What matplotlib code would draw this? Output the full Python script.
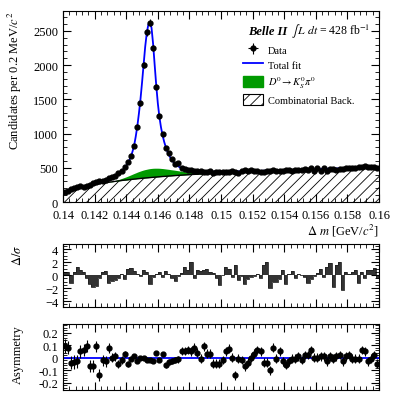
import numpy as np
import matplotlib
matplotlib.use("Agg")
import matplotlib.pyplot as plt
from matplotlib.ticker import MultipleLocator, FuncFormatter
from matplotlib.lines import Line2D
from matplotlib.patches import Patch

plt.rcParams['font.family'] = ['Liberation Serif', 'DejaVu Serif']
plt.rcParams['mathtext.fontset'] = 'stix'
plt.rcParams['hatch.linewidth'] = 0.6

# binning: 100 bins of 0.2 MeV
dm_lo, dm_hi, n_bins = 0.140, 0.160, 100

# candidates per bin
counts = [
    142, 165, 190, 211, 219, 234, 219, 234, 248, 277,
    292, 307, 302, 321, 346, 360, 375, 424, 449, 516,
    580, 672, 823, 1101, 1443, 2007, 2481, 2617, 2247, 1686,
    1253, 994, 785, 712, 624, 555, 566, 497, 487, 470,
    475, 460, 455, 450, 445, 438, 446, 430, 441, 436,
    432, 444, 438, 447, 442, 429, 452, 470, 446, 463,
    448, 455, 441, 432, 455, 449, 462, 458, 446, 453,
    468, 462, 455, 470, 466, 472, 480, 470, 493, 448,
    500, 458, 495, 448, 482, 478, 470, 485, 479, 498,
    493, 503, 500, 508, 510, 520, 506, 512, 505, 495,
]

# fit model curves
model_x = [0.1400, 0.1403, 0.1406, 0.1410, 0.1415, 0.1420, 0.1425, 0.1428, 0.1430, 0.1433,
           0.1436, 0.1438, 0.1440, 0.1442, 0.1443, 0.1444, 0.1445, 0.1446, 0.1447, 0.1448,
           0.1449, 0.1450, 0.1451, 0.1452, 0.1453, 0.1454, 0.1455, 0.1456, 0.1457, 0.1458,
           0.1459, 0.1460, 0.1461, 0.1462, 0.1463, 0.1464, 0.1465, 0.1466, 0.1467, 0.1468,
           0.1469, 0.1470, 0.1472, 0.1474, 0.1476, 0.1478, 0.1480, 0.1484, 0.1488, 0.1492,
           0.1496, 0.1500, 0.1510, 0.1520, 0.1530, 0.1540, 0.1550, 0.1560, 0.1570, 0.1580,
           0.1590, 0.1600]
bkg_y = [122, 155, 180, 205, 230, 253, 274, 285, 292, 302,
         311, 317, 322, 327, 330, 332, 335, 337, 340, 342,
         344, 347, 349, 351, 353, 355, 357, 359, 361, 363,
         365, 367, 369, 371, 373, 374, 376, 378, 380, 381,
         383, 385, 388, 391, 394, 397, 400, 405, 410, 414,
         418, 422, 431, 440, 448, 456, 464, 472, 479, 486,
         492, 498]
peaking_y = [0, 0, 0, 0, 0, 0, 0, 2, 5, 12,
             24, 34, 46, 60, 67, 75, 82, 89, 96, 103,
             109, 114, 119, 123, 126, 129, 131, 132, 132, 131,
             129, 127, 124, 120, 116, 112, 107, 102, 97, 92,
             87, 82, 72, 62, 52, 43, 36, 26, 15, 6,
             1, 0, 0, 0, 0, 0, 0, 0, 0, 0,
             0, 0]
total_y = [126, 160, 186, 212, 239, 265, 295, 318, 333, 370,
           422, 468, 532, 612, 668, 740, 828, 955, 1105, 1290,
           1500, 1745, 2010, 2270, 2470, 2595, 2625, 2545, 2310, 2000,
           1700, 1440, 1240, 1090, 975, 880, 805, 740, 690, 645,
           610, 580, 535, 505, 485, 472, 463, 452, 446, 443,
           442, 442, 446, 452, 458, 465, 472, 480, 488, 495,
           502, 508]

# pulls per bin
pulls = [
    0.4, 0.4, -1.2, 0.5, 1.2, 0.7, 0.5, -0.4, -1.4, -1.8,
    -1.7, -0.4, 0.4, 0.6, -1.2, -0.9, -0.7, -0.4, 0.1, -0.6,
    0.9, 1.1, 0.6, 0.2, -0.2, 0.8, 0.5, -1.4, -0.3, 0.1,
    0.4, -0.3, 0.6, 0.2, -0.5, -0.9, -0.2, 0.3, 1.3, 0.8,
    2.0, -0.5, 0.8, 0.6, 0.8, 0.9, 0.5, 0.3, -0.4, -1.6,
    0.0, 1.3, 1.0, -0.3, 1.6, -0.7, -0.1, -1.3, -0.6, -0.3,
    -0.1, 0.1, -0.5, 1.6, 2.0, -2.0, -1.1, -1.0, -0.6, 0.7,
    -1.3, 0.2, 0.6, -0.5, 0.1, 0.0, -0.3, -1.2, -0.6, -0.2,
    0.3, 0.9, -0.3, 1.3, 1.8, -1.8, 1.6, 2.0, -2.3, 0.5,
    0.2, 0.5, 0.8, -1.2, 0.4, -0.4, 0.8, 0.7, 1.1, -0.5,
]

# asymmetry per bin and its uncertainty
asym = [
    0.09, 0.08, -0.04, -0.035, -0.03, 0.05, 0.06, 0.09, -0.07, -0.07,
    0.09, -0.14, -0.02, -0.03, 0.08, 0.0, 0.01, -0.05, -0.02, 0.03,
    -0.05, -0.01, 0.01, -0.03, 0.0, -0.005, -0.02, -0.02, -0.025, 0.035,
    -0.02, 0.03, -0.06, -0.035, -0.03, -0.02, -0.015, 0.05, 0.05, 0.06,
    0.05, 0.08, 0.04, -0.01, 0.09, 0.03, 0.03, -0.05, -0.05, -0.05,
    -0.02, 0.05, 0.07, 0.0, -0.14, -0.01, -0.02, -0.07, -0.04, 0.0,
    0.03, 0.06, 0.05, -0.04, -0.04, -0.10, 0.08, -0.01, 0.05, -0.03,
    -0.06, -0.03, -0.01, -0.01, 0.01, -0.02, 0.02, 0.02, 0.06, 0.0,
    0.0, 0.01, 0.01, -0.03, 0.01, -0.01, 0.01, 0.02, -0.03, 0.01,
    0.02, -0.01, -0.01, -0.01, 0.06, 0.05, -0.03, -0.01, 0.02, -0.05,
]
asym_err = [
    0.055, 0.055, 0.054, 0.053, 0.052, 0.051, 0.05, 0.049, 0.048, 0.047,
    0.046, 0.045, 0.044, 0.042, 0.04, 0.038, 0.035, 0.032, 0.029, 0.026,
    0.023, 0.02, 0.017, 0.014, 0.012, 0.01, 0.01, 0.01, 0.011, 0.013,
    0.015, 0.017, 0.02, 0.022, 0.025, 0.027, 0.029, 0.031, 0.032, 0.033,
    0.034, 0.034, 0.035, 0.035, 0.035, 0.035, 0.035, 0.035, 0.035, 0.035,
    0.035, 0.035, 0.035, 0.035, 0.035, 0.035, 0.035, 0.035, 0.035, 0.035,
    0.035, 0.035, 0.035, 0.035, 0.035, 0.035, 0.035, 0.035, 0.035, 0.035,
    0.035, 0.035, 0.035, 0.035, 0.035, 0.035, 0.035, 0.035, 0.035, 0.035,
    0.035, 0.035, 0.035, 0.035, 0.035, 0.035, 0.035, 0.035, 0.035, 0.035,
    0.035, 0.035, 0.035, 0.035, 0.035, 0.035, 0.035, 0.035, 0.035, 0.035,
]
asym_fit = -0.004

edges = np.linspace(dm_lo, dm_hi, n_bins + 1)
centers = 0.5 * (edges[:-1] + edges[1:])
counts = np.array(counts)
model_x = np.array(model_x)
bkg_y = np.array(bkg_y)
peaking_y = np.array(peaking_y)


def root_style(ax, xmaj, xmin, ymaj, ymin):
    ax.xaxis.set_major_locator(MultipleLocator(xmaj))
    ax.xaxis.set_minor_locator(MultipleLocator(xmin))
    ax.yaxis.set_major_locator(MultipleLocator(ymaj))
    ax.yaxis.set_minor_locator(MultipleLocator(ymin))
    ax.tick_params(which='both', direction='in', top=True, right=True, labelsize=9)
    ax.tick_params(which='major', length=6, width=0.8)
    ax.tick_params(which='minor', length=3, width=0.6)
    ax.tick_params(axis='x', pad=5)
    ax.set_xlim(dm_lo, dm_hi)


fig = plt.figure(figsize=(3.99, 4.02), dpi=100)

# --- main panel ---
ax = fig.add_axes([0.158, 0.495, 0.792, 0.475])
ax.fill_between(model_x, 0, bkg_y, facecolor='white', edgecolor='black', hatch='///', linewidth=0)
ax.fill_between(model_x, bkg_y, bkg_y + peaking_y, color='#009a00', linewidth=0)
ax.plot(model_x, bkg_y, color='black', lw=1.0)
ax.plot(model_x, total_y, color='#0000ff', lw=1.3)
data = ax.errorbar(centers, counts, yerr=np.sqrt(counts), xerr=0.0001, fmt='o', color='black',
                   ms=3.5, elinewidth=0.8, capsize=0)
root_style(ax, 0.002, 0.0004, 500, 100)
ax.set_ylim(0, 2790)
ax.xaxis.set_major_formatter(FuncFormatter(lambda v, p: '%g' % round(v, 4)))
ax.set_ylabel(r'Candidates per 0.2 MeV/$c^2$', fontsize=9, loc='top')
ax.set_xlabel(r'$\Delta\ m$ [GeV/$c^2$]', fontsize=9, loc='right', labelpad=1)

# Belle II label: bold italic name, then luminosity
lumi = ax.text(0.972, 0.895, r'$\int\, L\ dt$ = 428 fb$^{-1}$',
               transform=ax.transAxes, ha='right', va='center', fontsize=8.5)
fig.canvas.draw()
bb = lumi.get_window_extent(fig.canvas.get_renderer()).transformed(ax.transAxes.inverted())
ax.text(bb.x0 - 0.012, 0.895, 'Belle II', transform=ax.transAxes, ha='right', va='center',
        fontsize=9, fontweight='bold', fontstyle='italic')

handles = [data,
           Line2D([], [], color='#0000ff', lw=1.3),
           Patch(facecolor='#009a00', edgecolor='#009a00'),
           Patch(facecolor='white', edgecolor='black', hatch='///', lw=0.8)]
labels = ['Data', 'Total fit', r'$D^0\!\rightarrow K^0_S\pi^0$', 'Combinatorial Back.']
ax.legend(handles, labels, loc='upper left', bbox_to_anchor=(0.555, 0.85), frameon=False,
          fontsize=7.5, handlelength=2.0, handleheight=1.2, labelspacing=0.4,
          handletextpad=0.4, borderaxespad=0)

# --- pull panel ---
ax2 = fig.add_axes([0.158, 0.234, 0.792, 0.157])
ax2.stairs(pulls, edges, baseline=0, fill=True, color='#333333')
ax2.stairs(pulls, edges, baseline=0, color='#222222', lw=0.6)
root_style(ax2, 0.002, 0.0004, 2, 0.5)
ax2.set_ylim(-4.9, 4.8)
ax2.set_xticklabels([])
ax2.set_ylabel(r'$\Delta/\sigma$', fontsize=9, loc='top')

# --- asymmetry panel ---
ax3 = fig.add_axes([0.158, 0.027, 0.792, 0.165])
ax3.axhline(asym_fit, color='#0000ff', lw=1.3)
ax3.errorbar(centers, asym, yerr=asym_err, fmt='o', color='black', ms=3.5, elinewidth=0.8, capsize=0)
root_style(ax3, 0.002, 0.0004, 0.1, 0.02)
ax3.set_ylim(-0.26, 0.27)
ax3.set_xticklabels([])
ax3.yaxis.set_major_formatter(FuncFormatter(lambda v, p: '%g' % round(v, 2)))
ax3.set_ylabel('Asymmetry', fontsize=9, loc='top')

for a in (ax, ax2, ax3):
    a.yaxis.set_label_coords(-0.125, 1.0)

fig.savefig('out.png', dpi=100)
